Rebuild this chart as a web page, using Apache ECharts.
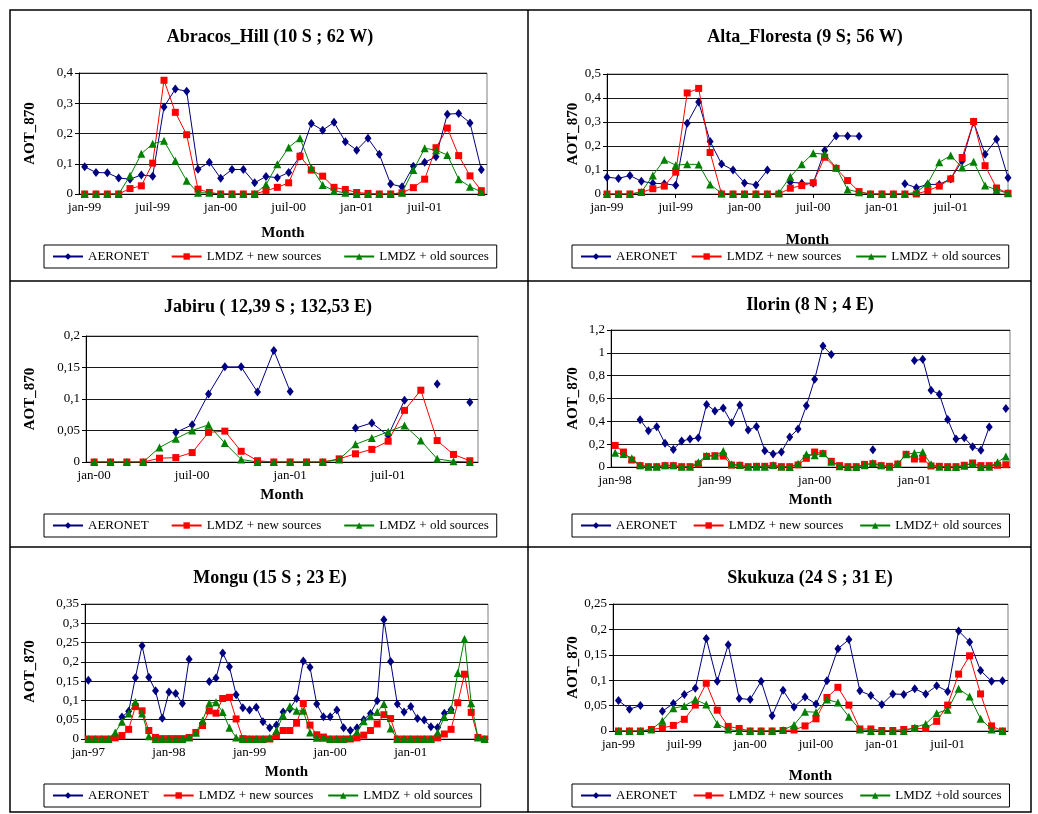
<!DOCTYPE html>
<html lang="fr">
<head>
<meta charset="UTF-8">
<title>AOT_870 - AERONET / LMDZ</title>
<script src="https://cdn.jsdelivr.net/npm/echarts@6/dist/echarts.min.js"></script>
<style>
  body { margin: 0; background: #fff; }
  #main { width: 1038px; height: 814px; }
</style>
</head>
<body>
<div id="main"></div>
<script>
// noms de mois (seuls jan et juil sont affichés)
var MONTHS = ['jan', 'fév', 'mar', 'avr', 'mai', 'juin', 'juil', 'aoû', 'sep', 'oct', 'nov', 'déc'];
function monthCats(startYear, n) {
    var out = [];
    for (var i = 0; i < n; i++) {
        var y = (startYear + Math.floor(i / 12)) % 100;
        out.push(MONTHS[i % 12] + '-' + (y < 10 ? '0' + y : y));
    }
    return out;
}

// Abracos_Hill, jan-99 .. déc-01
var abrCats = monthCats(1999, 36);
var abrAeronet = [0.090,0.071,0.070,0.053,0.049,0.063,0.059,0.288,0.347,0.340,0.082,0.105,0.052,0.081,0.081,0.037,0.058,0.054,
                  0.071,0.125,0.233,0.211,0.237,0.173,0.145,0.184,0.131,0.033,0.024,0.092,0.105,0.123,0.264,0.266,0.235,0.080];
var abrNew = [0,0,0,0,0.018,0.027,0.102,0.376,0.270,0.196,0.016,0.005,0,0,0,0,0.011,0.022,
              0.037,0.125,0.079,0.059,0.022,0.015,0.005,0.002,0,0,0.004,0.021,0.049,0.153,0.218,0.127,0.060,0.011];
var abrOld = [0,0,0,0,0.060,0.133,0.166,0.176,0.110,0.044,0.004,0.004,0,0,0,0,0.031,0.098,
              0.154,0.184,0.087,0.030,0.010,0.004,0,0,0,0,0.004,0.079,0.151,0.145,0.129,0.049,0.024,0.007];

// Alta_Floresta, jan-99 .. déc-01
var altCats = monthCats(1999, 36);
var altAeronet = [0.070,0.065,0.077,0.053,0.045,0.043,0.036,0.295,0.383,0.219,0.125,0.100,0.046,0.038,0.100,null,0.049,0.045,
                  0.045,0.181,0.242,0.242,0.241,null,null,null,0.043,0.026,0.040,0.040,0.063,0.138,0.300,0.166,0.228,0.068];
var altNew = [0,0,0,0.007,0.022,0.033,0.091,0.421,0.440,0.173,0,0,0,0,0,0,0.024,0.035,
              0.047,0.153,0.107,0.056,0.010,0,0,0,0,0,0.014,0.033,0.063,0.152,0.302,0.118,0.025,0.003];
var altOld = [0,0,0,0.008,0.077,0.143,0.120,0.124,0.123,0.040,0.003,0,0,0,0,0.005,0.072,0.124,
              0.170,0.166,0.110,0.019,0.007,0,0,0,0,0.007,0.045,0.132,0.160,0.110,0.134,0.035,0.017,0.003];

// Jabiru, jan-00 .. déc-01
var jabCats = monthCats(2000, 24);
var jabAeronet = [null,null,null,null,null,0.047,0.059,0.108,0.151,0.151,0.111,0.177,
                  0.112,null,null,null,0.054,0.062,0.042,0.098,null,0.124,null,0.095];
var jabNew = [0,0,0,0,0.006,0.007,0.015,0.047,0.049,0.017,0.002,0,
              0,0,0,0.005,0.013,0.020,0.033,0.082,0.114,0.034,0.012,0.002];
var jabOld = [0,0,0,0,0.023,0.037,0.050,0.059,0.030,0.004,0,0,
              0,0,0,0.004,0.028,0.038,0.048,0.058,0.034,0.005,0.001,0];

// Ilorin, jan-98 .. déc-01
var ilCats = monthCats(1998, 48);
var ilAeronet = [null,null,null,0.414,0.318,0.352,0.207,0.154,0.227,0.245,0.256,0.548,
                 0.490,0.516,0.387,0.542,0.323,0.355,0.143,0.114,0.131,0.262,0.332,0.536,
                 0.769,1.060,0.985,null,null,null,null,0.151,null,null,null,null,
                 0.932,0.944,0.673,0.638,0.417,0.245,0.256,0.178,0.146,0.350,null,0.513];
var ilNew = [0.189,0.131,0.061,0.012,0.003,0.003,0.012,0.012,0.003,0.003,0.026,0.093,
             0.099,0.096,0.017,0.015,0.003,0.006,0.006,0.012,0.003,0.003,0.018,0.076,
             0.131,0.117,0.050,0.012,0.003,0.003,0.023,0.029,0.012,0.006,0.026,0.111,
             0.070,0.070,0.009,0.006,0.003,0.003,0.015,0.035,0.012,0.012,0.015,0.020];
var ilOld = [0.125,0.114,0.076,0.015,0.003,0.003,0.015,0.015,0.003,0.003,0.041,0.099,
             0.099,0.140,0.023,0.017,0.003,0.003,0.003,0.017,0.003,0,0.029,0.111,
             0.102,0.122,0.047,0.006,0,0,0.015,0.035,0.015,0.003,0.029,0.111,
             0.122,0.131,0.023,0.003,0,0,0.012,0.029,0,0.003,0.041,0.093];

// Mongu, jan-97 .. déc-01
var moCats = monthCats(1997, 60);
var moAeronet = [0.152,null,null,null,null,0.057,0.072,0.159,0.242,0.160,0.125,0.054,
                 0.122,0.118,0.092,0.207,null,null,0.149,0.158,0.223,0.187,0.115,0.081,
                 0.075,0.082,0.045,0.029,0.036,0.070,0.078,0.105,0.202,0.186,0.091,0.058,
                 0.058,0.075,0.029,0.022,0.029,0.050,0.066,0.099,0.309,0.201,0.091,0.070,
                 0.084,0.053,0.049,0.032,0.030,0.067,0.076,null,null,null,null,null];
var moNew = [0,0,0,0,0.003,0.009,0.025,0.084,0.073,0.022,0.004,0.001,
             0.001,0.001,0.001,0.004,0.017,0.035,0.073,0.067,0.105,0.108,0.052,0.001,
             0,0,0,0,0.008,0.022,0.022,0.041,0.092,0.036,0.011,0.005,
             0,0,0,0,0.003,0.010,0.022,0.039,0.063,0.053,0,0,
             0,0,0,0,0.003,0.013,0.025,0.094,0.168,0.069,0.004,0];
var moOld = [0,0,0,0,0.017,0.045,0.066,0.096,0.066,0.007,0,0,
             0,0,0,0.004,0.016,0.048,0.093,0.095,0.070,0.029,0.004,0,
             0,0,0,0.003,0.022,0.061,0.085,0.073,0.073,0.017,0.003,0.003,
             0,0,0,0.003,0.018,0.046,0.059,0.070,0.091,0.027,0,0,
             0,0,0,0,0.017,0.057,0.075,0.171,0.259,0.093,0.004,0];

// Skukuza, jan-99 .. déc-01
var skCats = monthCats(1999, 36);
var skAeronet = [0.060,0.043,0.050,null,0.039,0.054,0.072,0.084,0.182,0.098,0.170,0.064,
                 0.062,0.098,0.030,0.080,0.047,0.067,0.053,0.099,0.162,0.180,0.079,0.070,
                 0.052,0.073,0.072,0.083,0.073,0.089,0.078,0.197,0.175,0.119,0.098,0.099];
var skNew = [0,0,0,0.003,0.006,0.011,0.023,0.051,0.094,0.041,0.009,0.005,
             0,0,0,0.001,0.002,0.010,0.024,0.066,0.086,0.051,0.004,0.004,
             0.001,0.001,0.003,0.005,0.005,0.019,0.051,0.112,0.148,0.073,0.010,0];
var skOld = [0,0,0,0.003,0.020,0.045,0.049,0.062,0.052,0.014,0.003,0,
             0,0,0,0.002,0.012,0.038,0.037,0.062,0.056,0.028,0.003,0,
             0,0,0,0.007,0.014,0.035,0.042,0.083,0.068,0.024,0.003,0];

var FONT = '"Liberation Serif", "Times New Roman", serif';
var COLORS = ['#000080', '#ff0000', '#008000'];
var SYMBOLS = ['diamond', 'rect', 'triangle'];
var SYM_SIZE = [[7, 9], 7, 8];

var panels = [
    {title: 'Abracos_Hill (10 S ; 62 W)', tx: 270, ty: 37, cats: abrCats, data: [abrAeronet, abrNew, abrOld],
     names: ['AERONET', 'LMDZ + new sources', 'LMDZ + old sources'], max: 0.4, step: 0.1, every: 6, bgap: true,
     grid: {left: 79, top: 73, width: 408, height: 121}, yGap: 41, xGap: 32, leg: {left: 44, top: 245, gap: 22}},
    {title: 'Alta_Floresta (9 S; 56 W)', tx: 805, ty: 37, cats: altCats, data: [altAeronet, altNew, altOld],
     names: ['AERONET', 'LMDZ + new sources', 'LMDZ + old sources'], max: 0.5, step: 0.1, every: 6, bgap: false,
     grid: {left: 607, top: 74, width: 401, height: 120}, yGap: 25, xGap: 39, leg: {left: 572, top: 245, gap: 14}},
    {title: 'Jabiru ( 12,39 S ; 132,53 E)', tx: 268, ty: 307, cats: jabCats, data: [jabAeronet, jabNew, jabOld],
     names: ['AERONET', 'LMDZ + new sources', 'LMDZ + old sources'], max: 0.2, step: 0.05, every: 6, bgap: true,
     grid: {left: 86, top: 336, width: 392, height: 126}, yGap: 48, xGap: 26, leg: {left: 44, top: 514, gap: 22}},
    {title: 'Ilorin (8 N ; 4 E)', tx: 810, ty: 305, cats: ilCats, data: [ilAeronet, ilNew, ilOld],
     names: ['AERONET', 'LMDZ + new sources', 'LMDZ+ old sources'], max: 1.2, step: 0.2, every: 12, bgap: true,
     grid: {left: 611, top: 330, width: 399, height: 137}, yGap: 30, xGap: 26, leg: {left: 572, top: 514, gap: 16}},
    {title: 'Mongu (15 S ; 23 E)', tx: 270, ty: 578, cats: moCats, data: [moAeronet, moNew, moOld],
     names: ['AERONET', 'LMDZ + new sources', 'LMDZ + old sources'], max: 0.35, step: 0.05, every: 12, bgap: true,
     grid: {left: 85, top: 604, width: 403, height: 135}, yGap: 47, xGap: 26, leg: {left: 44, top: 784, gap: 14}},
    {title: 'Skukuza (24 S ; 31 E)', tx: 810, ty: 578, cats: skCats, data: [skAeronet, skNew, skOld],
     names: ['AERONET', 'LMDZ + new sources', 'LMDZ +old sources'], max: 0.25, step: 0.05, every: 6, bgap: true,
     grid: {left: 613, top: 604, width: 395, height: 127}, yGap: 28, xGap: 38, leg: {left: 572, top: 784, gap: 16}}
];

var grids = [], xAxes = [], yAxes = [], series = [], legends = [];
var graphics = [
    {type: 'rect', shape: {x: 10, y: 10, width: 1021, height: 802}, style: {fill: 'transparent', stroke: '#000', lineWidth: 1.5}},
    {type: 'line', shape: {x1: 528, y1: 10, x2: 528, y2: 812}, style: {stroke: '#000', lineWidth: 1.5}},
    {type: 'line', shape: {x1: 10, y1: 281, x2: 1031, y2: 281}, style: {stroke: '#000', lineWidth: 1.5}},
    {type: 'line', shape: {x1: 10, y1: 547, x2: 1031, y2: 547}, style: {stroke: '#000', lineWidth: 1.5}}
];

panels.forEach(function (p, k) {
    grids.push({left: p.grid.left, top: p.grid.top, width: p.grid.width, height: p.grid.height,
                show: true, borderColor: '#808080', borderWidth: 1, backgroundColor: '#fff'});
    xAxes.push({
        type: 'category', gridIndex: k, data: p.cats, boundaryGap: p.bgap,
        name: 'Month', nameLocation: 'middle', nameGap: p.xGap,
        nameTextStyle: {fontFamily: FONT, fontWeight: 'bold', fontSize: 15, color: '#000'},
        axisLine: {lineStyle: {color: '#000', width: 1}},
        axisTick: {interval: p.every - 1, length: 4, lineStyle: {color: '#000'}},
        axisLabel: {interval: p.every - 1, fontFamily: FONT, fontSize: 13, color: '#000', margin: 7},
        splitLine: {show: false}
    });
    yAxes.push({
        type: 'value', gridIndex: k, min: 0, max: p.max, interval: p.step,
        name: 'AOT_870', nameLocation: 'middle', nameGap: p.yGap, nameRotate: 90,
        nameTextStyle: {fontFamily: FONT, fontWeight: 'bold', fontSize: 15, color: '#000'},
        axisLine: {show: true, lineStyle: {color: '#000', width: 1}},
        axisTick: {show: true, length: 4, lineStyle: {color: '#000'}},
        axisLabel: {fontFamily: FONT, fontSize: 13, color: '#000', margin: 6,
                    formatter: function (v) { return String(+v.toFixed(3)).replace('.', ','); }},
        splitLine: {lineStyle: {color: '#1a1a1a', width: 1}}
    });
    p.data.forEach(function (d, s) {
        series.push({
            name: p.names[s], type: 'line', xAxisIndex: k, yAxisIndex: k, data: d,
            symbol: SYMBOLS[s], symbolSize: SYM_SIZE[s], showSymbol: true, showAllSymbol: true,
            connectNulls: false, z: 2 + s,
            lineStyle: {color: COLORS[s], width: 1},
            itemStyle: {color: COLORS[s]}
        });
    });
    legends.push({
        left: p.leg.left, top: p.leg.top, orient: 'horizontal', data: p.names,
        itemWidth: 30, itemHeight: 8, itemGap: p.leg.gap, padding: [5, 8],
        borderColor: '#000', borderWidth: 1, selectedMode: false,
        textStyle: {fontFamily: FONT, fontSize: 13, color: '#000'}
    });
    graphics.push({type: 'text', x: p.tx, y: p.ty,
        style: {text: p.title, font: 'bold 18px ' + FONT, fill: '#000',
                align: 'center', verticalAlign: 'middle', textAlign: 'center', textVerticalAlign: 'middle'}});
});

var myChart = echarts.init(document.getElementById('main'));
var option = {
    animation: false,
    backgroundColor: '#fff',
    grid: grids,
    xAxis: xAxes,
    yAxis: yAxes,
    legend: legends,
    series: series,
    graphic: graphics
};
myChart.setOption(option);
</script>
</body>
</html>
